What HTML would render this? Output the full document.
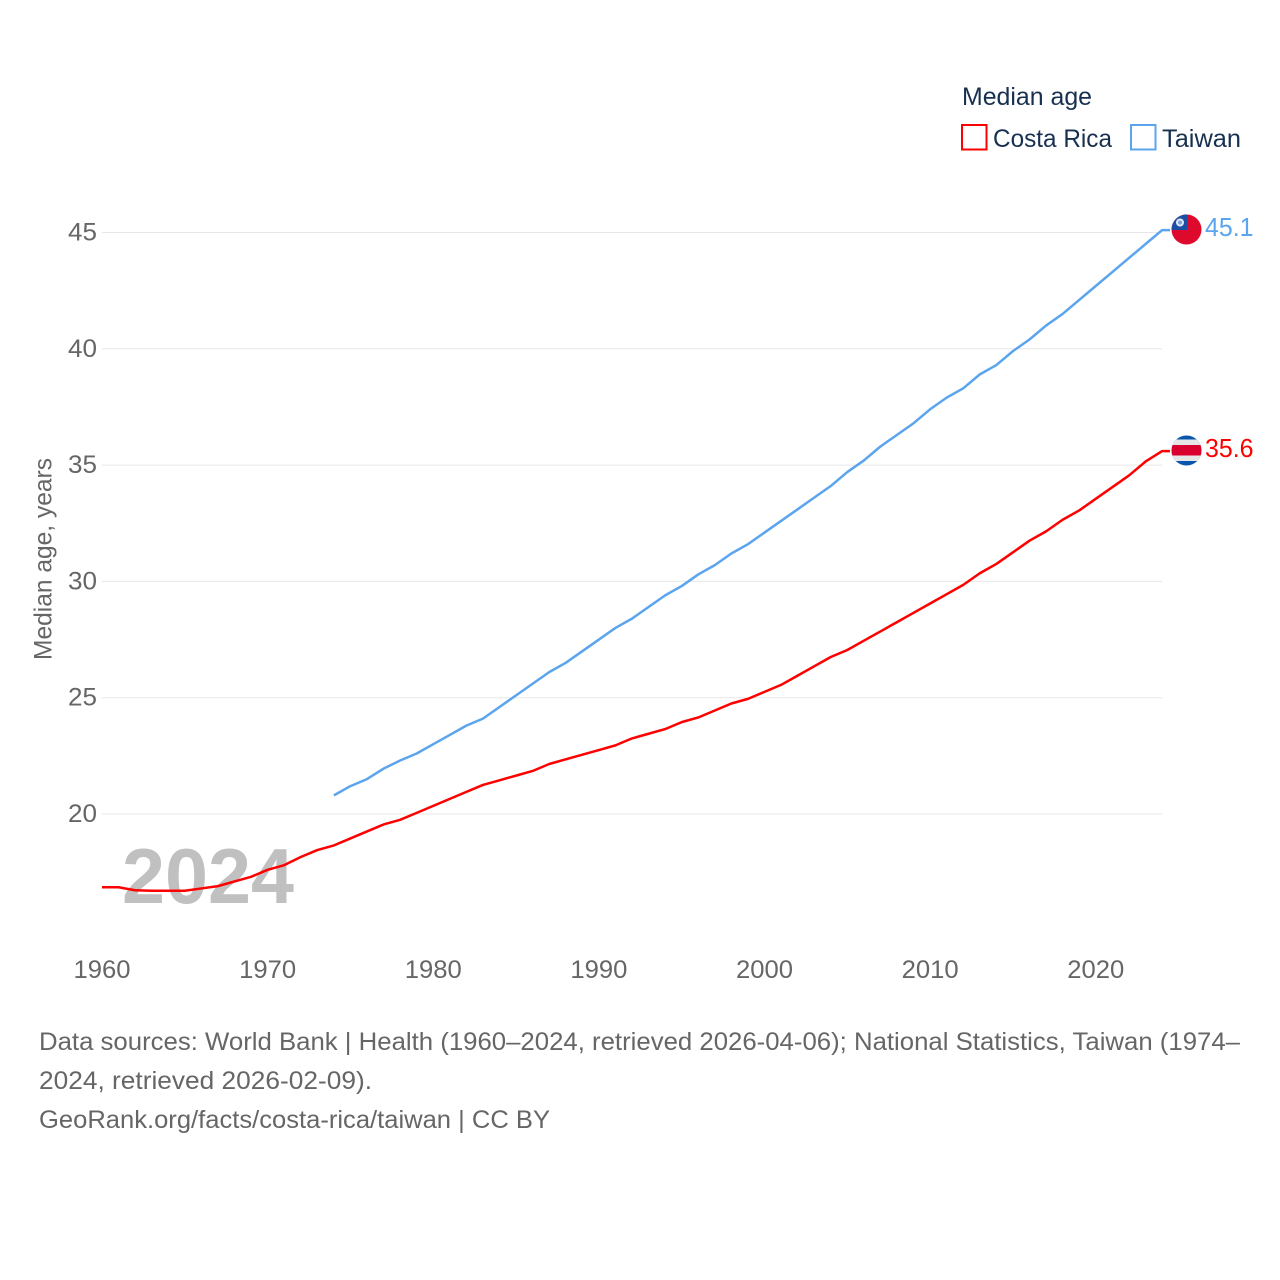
<!DOCTYPE html>
<html lang="en">
<head>
<meta charset="utf-8">
<title>Median age: Costa Rica and Taiwan</title>
<style>
html,body{margin:0;padding:0;background:#fff;width:1280px;height:1280px;overflow:hidden}
svg{display:block}
text{font-family:"Liberation Sans",sans-serif}
</style>
</head>
<body>
<svg id="chart" xmlns="http://www.w3.org/2000/svg" width="1280" height="1280" viewBox="0 0 1280 1280">
  <rect x="0" y="0" width="1280" height="1280" fill="#ffffff"/>
  <g id="grid"></g>
  <g id="yticks"></g>
  <g id="xticks"></g>
  <text transform="translate(51.5,660) rotate(-90)" font-size="25" fill="#666666" textLength="202" lengthAdjust="spacingAndGlyphs">Median age, years</text>
  <text x="122" y="903" font-size="78" font-weight="bold" fill="#c0c0c0" textLength="172" lengthAdjust="spacingAndGlyphs">2024</text>
  <g id="series"></g>

  <g>
    <text x="962" y="105" font-size="25" fill="#18304f" textLength="130" lengthAdjust="spacingAndGlyphs">Median age</text>
    <rect x="962" y="125" width="24.5" height="24.5" fill="none" stroke="#ff0000" stroke-width="2"/>
    <text x="993" y="147" font-size="25" fill="#18304f" textLength="119" lengthAdjust="spacingAndGlyphs">Costa Rica</text>
    <rect x="1131" y="125" width="24.5" height="24.5" fill="none" stroke="#5ba4ee" stroke-width="2"/>
    <text x="1162" y="147" font-size="25" fill="#18304f" textLength="79" lengthAdjust="spacingAndGlyphs">Taiwan</text>
  </g>

  <defs>
    <clipPath id="clip-tw"><circle id="clip-tw-c" cx="1186.5" cy="229.5" r="15"/></clipPath>
    <clipPath id="clip-cr"><circle id="clip-cr-c" cx="1186.5" cy="450.5" r="15"/></clipPath>
  </defs>
  <g id="flag-taiwan" clip-path="url(#clip-tw)">
    <rect x="1171" y="214" width="31" height="31" fill="#de0a2e"/>
    <rect x="1171" y="214" width="16" height="16" fill="#1c4fa3"/>
    <circle cx="1180" cy="222.5" r="4" fill="#dfe8f5"/>
    <circle cx="1180" cy="222.5" r="2" fill="#7fa2d6"/>
  </g>
  <g id="flag-costa-rica" clip-path="url(#clip-cr)">
    <rect x="1171" y="435" width="31" height="31" fill="#0a55ad"/>
    <rect x="1171" y="439.5" width="31" height="21.5" fill="#e6e6e6"/>
    <rect x="1171" y="445" width="31" height="10.5" fill="#d9002f"/>
  </g>
  <g id="value-labels"></g>

  <g>
    <text x="39" y="1050" font-size="25" fill="#666666" textLength="1201" lengthAdjust="spacingAndGlyphs">Data sources: World Bank | Health (1960–2024, retrieved 2026-04-06); National Statistics, Taiwan (1974–</text>
    <text x="39" y="1089" font-size="25" fill="#666666" textLength="333" lengthAdjust="spacingAndGlyphs">2024, retrieved 2026-02-09).</text>
    <text x="39" y="1128" font-size="25" fill="#666666" textLength="511" lengthAdjust="spacingAndGlyphs">GeoRank.org/facts/costa-rica/taiwan | CC BY</text>
  </g>
</svg>
<script>
var firstYear = 1960;
var taiwanFirstYear = 1974;
var yTickValues = [20, 25, 30, 35, 40, 45];
var xTickValues = [1960, 1970, 1980, 1990, 2000, 2010, 2020];
var costaRicaValues = [16.85,16.85,16.72,16.7,16.7,16.7,16.8,16.9,17.1,17.3,17.6,17.8,18.15,18.45,18.65,18.95,19.25,19.55,19.75,20.05,20.35,20.65,20.95,21.25,21.45,21.65,21.85,22.15,22.35,22.55,22.75,22.95,23.25,23.45,23.65,23.95,24.15,24.45,24.75,24.95,25.25,25.55,25.95,26.35,26.75,27.05,27.45,27.85,28.25,28.65,29.05,29.45,29.85,30.35,30.75,31.25,31.75,32.15,32.65,33.05,33.55,34.05,34.55,35.15,35.6];
var taiwanValues = [20.8,21.2,21.5,21.95,22.3,22.6,23.0,23.4,23.8,24.1,24.6,25.1,25.6,26.1,26.5,27.0,27.5,28.0,28.4,28.9,29.4,29.8,30.3,30.7,31.2,31.6,32.1,32.6,33.1,33.6,34.1,34.7,35.2,35.8,36.3,36.8,37.4,37.9,38.3,38.9,39.3,39.9,40.4,41.0,41.5,42.1,42.7,43.3,43.9,44.5,45.1];

var NS = 'http://www.w3.org/2000/svg';
function xScale(year) { return 102 + (year - 1960) * (1162 - 102) / 64; }
function yScale(v) { return 814 - (v - 20) * (814 - 232.5) / 25; }

var grid = document.getElementById('grid');
var yticks = document.getElementById('yticks');
yTickValues.forEach(function (v) {
  var l = document.createElementNS(NS, 'line');
  
  
  l.setAttribute('x1', 102);
  l.setAttribute('x2', 1162);
  l.setAttribute('y1', yScale(v));
  l.setAttribute('y2', yScale(v));
  l.setAttribute('stroke', '#e7e7e7');
  l.setAttribute('stroke-width', '1');
  grid.appendChild(l);
  var t = document.createElementNS(NS, 'text');
  
  
  t.setAttribute('x', 68);
  t.setAttribute('y', yScale(v) + 8);
  t.setAttribute('font-size', '25');
  t.setAttribute('fill', '#666666');
  t.setAttribute('textLength', '29');
  t.setAttribute('lengthAdjust', 'spacingAndGlyphs');
  t.textContent = String(v);
  yticks.appendChild(t);
});

var xticks = document.getElementById('xticks');
xTickValues.forEach(function (y) {
  var t = document.createElementNS(NS, 'text');
  
  
  t.setAttribute('x', xScale(y) - 28.5);
  t.setAttribute('y', 978);
  t.setAttribute('font-size', '25');
  t.setAttribute('fill', '#666666');
  t.setAttribute('textLength', '57');
  t.setAttribute('lengthAdjust', 'spacingAndGlyphs');
  t.textContent = String(y);
  xticks.appendChild(t);
});

function drawSeries(values, startYear, color, name) {
  var pts = values.map(function (v, i) {
    return xScale(startYear + i).toFixed(2) + ',' + yScale(v).toFixed(2);
  });
  var last = values[values.length - 1];
  pts.push('1170,' + yScale(last).toFixed(2));
  var p = document.createElementNS(NS, 'polyline');
  
  
  p.setAttribute('points', pts.join(' '));
  p.setAttribute('fill', 'none');
  p.setAttribute('stroke', color);
  p.setAttribute('stroke-width', '2.5');
  p.setAttribute('stroke-linejoin', 'round');
  document.getElementById('series').appendChild(p);
  var t = document.createElementNS(NS, 'text');
  
  
  t.setAttribute('x', 1205);
  t.setAttribute('y', yScale(last) + 6);
  t.setAttribute('font-size', '25.5');
  t.setAttribute('fill', color);
  t.setAttribute('textLength', '48.5');
  t.setAttribute('lengthAdjust', 'spacingAndGlyphs');
  t.textContent = last.toFixed(1);
  document.getElementById('value-labels').appendChild(t);
}
drawSeries(costaRicaValues, firstYear, '#ff0000', 'costa-rica');
drawSeries(taiwanValues, taiwanFirstYear, '#5ba4ee', 'taiwan');

function placeFlag(id, value, baseCy) {
  var dy = yScale(value) - baseCy;
  document.getElementById(id).setAttribute('transform', 'translate(0,' + dy.toFixed(2) + ')');
}
placeFlag('flag-taiwan', taiwanValues[taiwanValues.length - 1], yScale(45.1));
placeFlag('flag-costa-rica', costaRicaValues[costaRicaValues.length - 1], yScale(35.6));
</script>
</body>
</html>
